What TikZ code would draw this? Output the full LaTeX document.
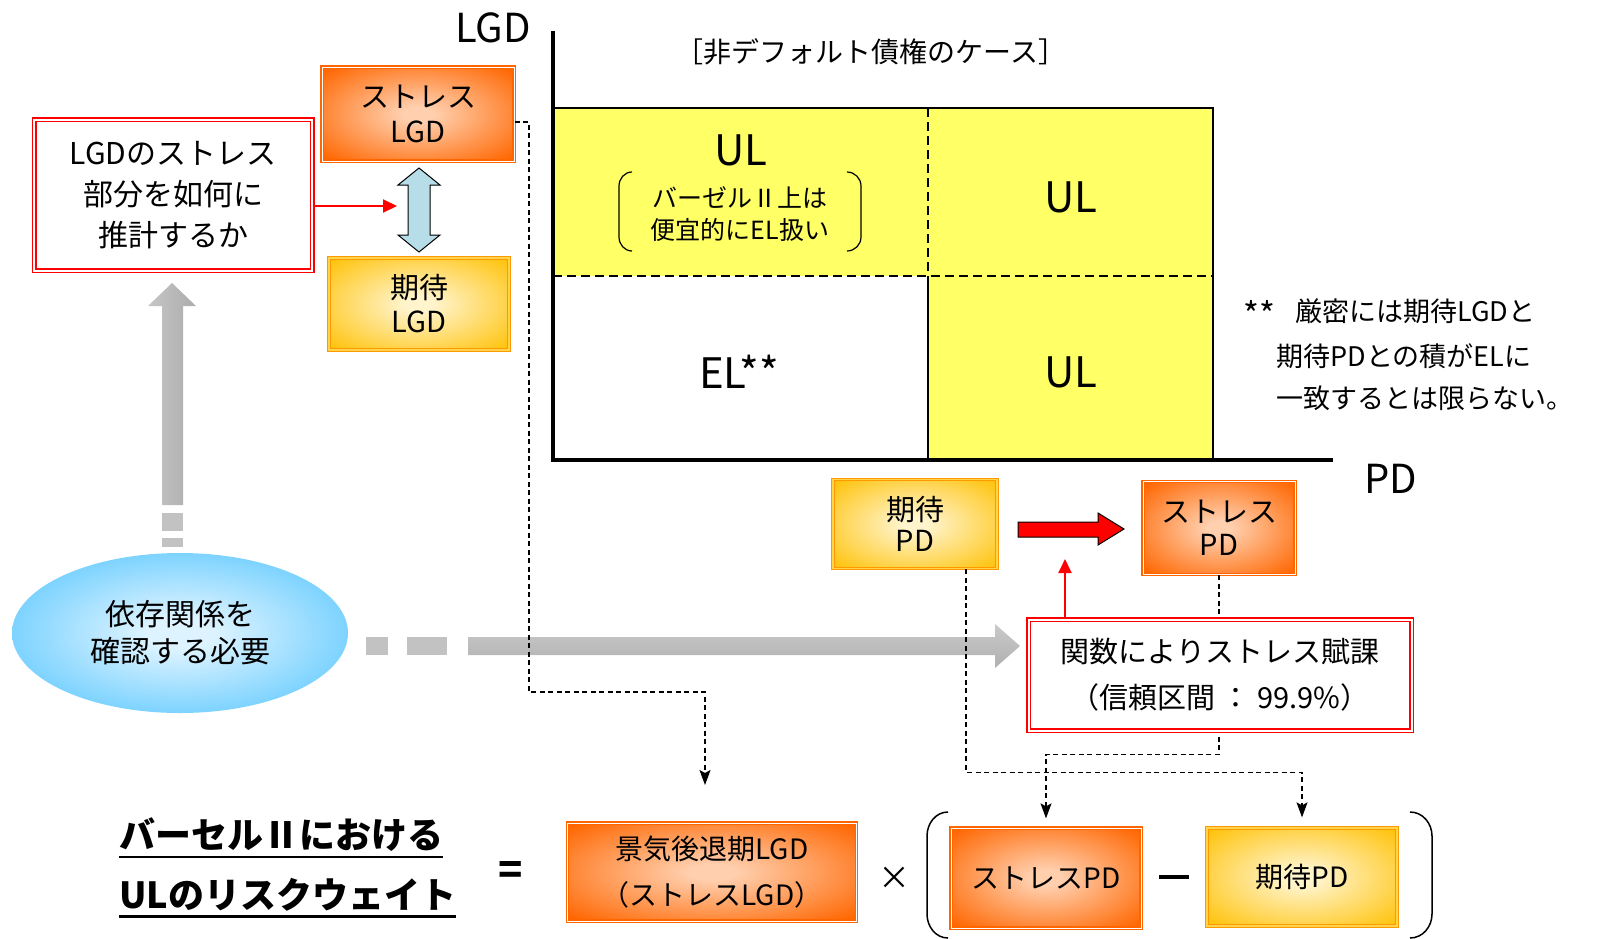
\documentclass[tikz,border=0pt]{standalone}
\usepackage{fontspec}
\setmainfont{Noto Sans CJK JP}
\usetikzlibrary{arrows.meta,shapes.geometric}
\definecolor{gridyellow}{HTML}{FFFF66}
\definecolor{stressedge}{HTML}{FF6600}
\definecolor{stressmid}{HTML}{FFCFAE}
\definecolor{expedge}{HTML}{FFC000}
\definecolor{expmid}{HTML}{FFF4CC}
\definecolor{expline}{HTML}{FF9900}
\definecolor{ellout}{HTML}{5CC8FF}
\definecolor{ellin}{HTML}{DDF3FF}
\definecolor{dblue}{HTML}{B7DEE8}
\pgfdeclareradialshading{stressglow}{\pgfpoint{0bp}{0bp}}{color(0bp)=(stressmid); color(4bp)=(stressmid); color(34bp)=(stressedge); color(50bp)=(stressedge)}
\pgfdeclareradialshading{expglow}{\pgfpoint{0bp}{0bp}}{color(0bp)=(expmid); color(4bp)=(expmid); color(36bp)=(expedge); color(50bp)=(expedge)}
\pgfdeclareradialshading{ellglow}{\pgfpoint{0bp}{0bp}}{color(0bp)=(ellin); color(5bp)=(ellin); color(32bp)=(ellout); color(50bp)=(ellout)}
\newcommand{\fs}[2]{\fontsize{#1}{#2}\selectfont}
\tikzset{
  stressbox/.style={rectangle, shading=stressglow, draw=stressedge, double=white, line width=1.3pt, double distance=0.8pt, align=center},
  expbox/.style={rectangle, shading=expglow, draw=expline, double=expedge!70, line width=1.3pt, double distance=1.2pt, align=center},
  redbox/.style={rectangle, fill=white, draw=red, double=white, line width=1.5pt, double distance=2pt, align=center},
  conn/.style={black, line width=1.2pt, dash pattern=on 5pt off 3.5pt, -{Stealth[length=15pt,width=11pt,inset=3pt]}},
  redarrow/.style={red, line width=2pt, -{Triangle[length=14pt,width=13pt]}},
  biglabel/.style={font=\fs{42}{42}},
  footline/.style={font=\fs{27}{27}, anchor=west},
  titleline/.style={font=\bfseries\fs{36}{36}, anchor=west, inner sep=0pt}
}
\begin{document}
\begin{tikzpicture}[x=1pt,y=-1pt]
\useasboundingbox (0,0) rectangle (1602,938);
\fill[gridyellow] (553,108) rectangle (1213,276);
\fill[gridyellow] (928,276) rectangle (1213,460);
\draw[line width=2pt] (553,108) -- (1213,108) -- (1213,460);
\draw[line width=2pt] (928,276) -- (928,460);
\draw[line width=2pt, dash pattern=on 9pt off 5pt] (553,276) -- (1213,276);
\draw[line width=1.5pt, dash pattern=on 9pt off 5pt] (928,108) -- (928,276);
\draw[line width=4pt] (553,31) -- (553,460) -- (1333,460);
\node[font=\fs{40}{40}] (lgdaxis) at (493,28) {LGD};
\node[font=\fs{40}{40}] (pdaxis) at (1391,479) {PD};
\node[font=\fs{28}{28}] (title) at (871,52) {［非デフォルト債権のケース］};
\node[biglabel] (ula) at (741,150) {UL};
\node[font=\fs{25}{32}, align=center] (basel) at (740,214) {バーゼルⅡ上は\\便宜的にEL扱い};
\draw[line width=1.2pt] (632,172) to[out=180,in=90] (619,186) -- (619,237) to[out=-90,in=180] (632,251);
\draw[line width=1.2pt] (847,172) to[out=0,in=90] (861,186) -- (861,237) to[out=-90,in=0] (847,251);
\node[biglabel] (ulb) at (1071,197) {UL};
\node[biglabel] (el) at (739,372) {EL**};
\node[biglabel] (ulc) at (1071,372) {UL};
\node[footline] (foota) at (1240,313) {\raisebox{-6pt}{\fs{34}{34}**}\hspace{20pt}厳密には期待LGDと};
\node[footline] (footb) at (1273,356) {期待PDとの積がELに};
\node[footline] (footc) at (1273,398) {一致するとは限らない。};
\shade[top color=gray!42, bottom color=gray!62] (468,637) -- (995,637) -- (995,624) -- (1020,646) -- (995,668) -- (995,655) -- (468,655) -- cycle;
\fill[gray!48] (366,637) rectangle (388,655);
\fill[gray!48] (407,637) rectangle (447,655);
\shade[left color=gray!45, right color=gray!65] (162,505) -- (162,306) -- (148,306) -- (172,283) -- (196,306) -- (183,306) -- (183,505) -- cycle;
\fill[gray!48] (162,513) rectangle (183,531);
\fill[gray!48] (162,538) rectangle (183,547);
\draw[fill=dblue, line width=1pt] (419,168) -- (440,185) -- (430,185) -- (430,235) -- (440,235) -- (419,252) -- (398,235) -- (408,235) -- (408,185) -- (398,185) -- cycle;
\draw[fill=red, line width=1pt] (1018,522) -- (1098,522) -- (1098,513) -- (1124,529) -- (1098,545) -- (1098,537) -- (1018,537) -- cycle;
\node[stressbox, minimum width=192, minimum height=94, font=\fs{29}{35}] (slgd) at (418,114) {ストレス\\LGD};
\node[expbox, minimum width=180, minimum height=92, font=\fs{29}{34}] (elgd) at (419,304) {期待\\LGD};
\node[expbox, minimum width=164, minimum height=89, font=\fs{29}{31}] (epd) at (915,524) {期待\\PD};
\node[stressbox, minimum width=152, minimum height=93, font=\fs{29}{33}] (spd) at (1219,528) {ストレス\\PD};
\node[stressbox, minimum width=289, minimum height=98, font=\fs{28}{46}] (blgd) at (712,872) {景気後退期LGD\\（ストレスLGD）};
\node[stressbox, minimum width=190, minimum height=100, font=\fs{28}{28}] (bspd) at (1046,878) {ストレスPD};
\node[expbox, minimum width=190, minimum height=98, font=\fs{28}{28}] (bepd) at (1302,877) {期待PD};
\coordinate (lgdend) at (705,785);
\draw[conn] ([yshift=-8pt]slgd.east) -- (529,122) -- (529,692) -| (lgdend);
\draw[conn] ([xshift=51pt]epd.south) -- ++(0,203) -| ([yshift=10pt]bepd.north);
\draw[conn] (spd.south) -- ++(0,179) -| ([yshift=9pt]bspd.north);
\node[redbox, minimum width=278, minimum height=151, font=\fs{30}{41}] (lgdq) at (173,195) {LGDのストレス\\部分を如何に\\推計するか};
\node[ellipse, shading=ellglow, minimum width=336, minimum height=160, font=\fs{30}{37}, align=center] (dep) at (180,633) {依存関係を\\確認する必要};
\node[redbox, minimum width=383, minimum height=111, font=\fs{29}{46}] (func) at (1220,675) {関数によりストレス賦課\\（信頼区間 ： 99.9\%）};
\coordinate (dbl) at (397,206);
\coordinate (uptip) at (1065,559);
\draw[redarrow] ([yshift=-11pt]lgdq.east) -- (dbl);
\draw[redarrow] (func.north -| uptip) -- (uptip);
\node[titleline] (ttla) at (119,835) {バーセルⅡにおける};
\node[titleline] (ttlb) at (119,895) {ULのリスクウェイト};
\draw[line width=2.5pt] ([yshift=-8pt]ttla.base west) -- ([yshift=-8pt]ttla.base east);
\draw[line width=2.5pt] ([yshift=-8pt]ttlb.base west) -- ([yshift=-8pt]ttlb.base east);
\node[font=\bfseries\fs{40}{40}] (eq) at (511,873) {=};
\node[font=\fs{32}{32}] (times) at (894,878) {×};
\node (minus) at (1174,877) {\rule{30pt}{3.5pt}};
\draw[line width=1.5pt] (948,812) to[out=180,in=90] (927,836) -- (927,914) to[out=-90,in=180] (948,938);
\draw[line width=1.5pt] (1410,812) to[out=0,in=90] (1432,836) -- (1432,914) to[out=-90,in=0] (1410,938);
\end{tikzpicture}
\end{document}
